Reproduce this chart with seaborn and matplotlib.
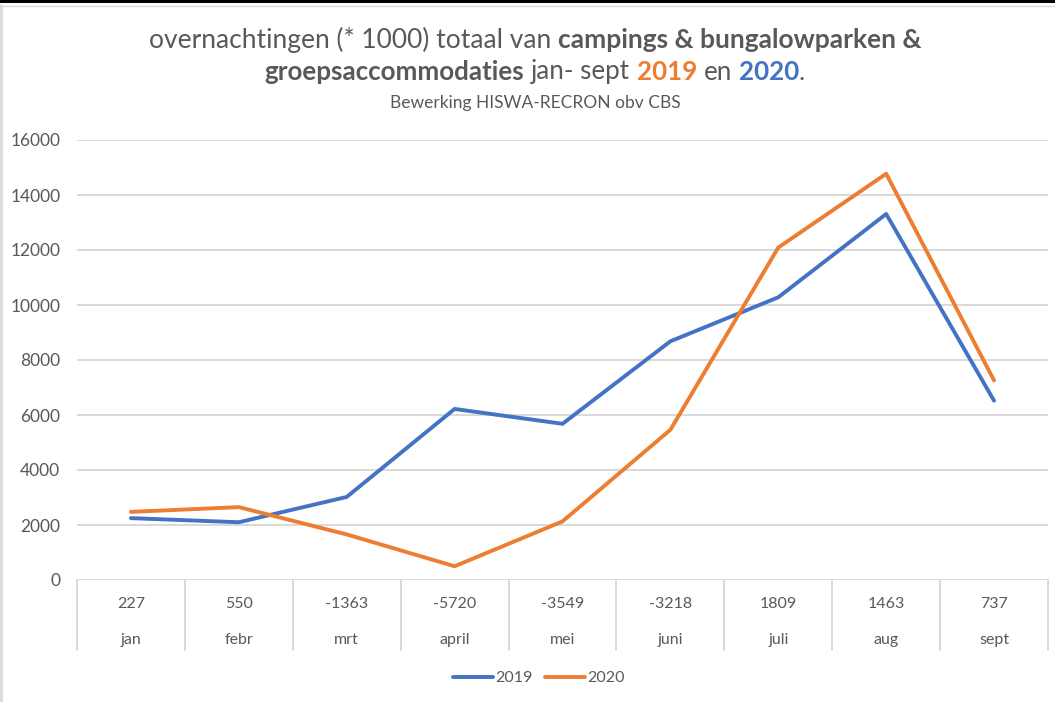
import numpy as np
import pandas as pd
import seaborn as sns
import matplotlib.pyplot as plt
from matplotlib.lines import Line2D
from matplotlib.patches import Rectangle

# data
maanden = ["jan", "febr", "mrt", "april", "mei", "juni", "juli", "aug", "sept"]
verschil = ["227", "550", "-1363", "-5720", "-3549", "-3218", "1809", "1463", "737"]
jaar_2019 = [2250, 2100, 3020, 6220, 5680, 8680, 10280, 13310, 6520]
jaar_2020 = [2477, 2650, 1657, 500, 2131, 5462, 12089, 14773, 7257]

blauw = "#4472C4"
oranje = "#ED7D31"
grijs = "#595959"
raster = "#D9D9D9"

df = pd.DataFrame({
    "maand": maanden * 2,
    "waarde": jaar_2019 + jaar_2020,
    "jaar": ["2019"] * 9 + ["2020"] * 9,
})

sns.set_theme(style="white")
plt.rcParams["font.family"] = ["Lato", "DejaVu Sans"]

fig = plt.figure(figsize=(10.55, 7.02), dpi=100)
ax = fig.add_axes([77 / 1055, 1 - 580 / 702, (1048 - 77) / 1055, 440 / 702])

sns.lineplot(data=df, x="maand", y="waarde", hue="jaar", sort=False,
             palette={"2019": blauw, "2020": oranje}, linewidth=2.8,
             ax=ax, legend=False)
for ln in ax.lines:
    ln.set_solid_joinstyle("round")
    ln.set_solid_capstyle("round")

ax.set_xlim(-0.5, 8.5)
ax.set_ylim(0, 16000)
ax.set_yticks(np.arange(0, 16001, 2000))
ax.yaxis.grid(True, color=raster, linewidth=1.4)
ax.set_axisbelow(True)
for s in ax.spines.values():
    s.set_visible(False)
ax.tick_params(axis="y", length=0, pad=12, labelsize=12.5, labelcolor=grijs)
ax.set_xticks([])
ax.set_xlabel("")
ax.set_ylabel("")

# twee rijen categorie labels met scheidingslijnen
trans = ax.get_xaxis_transform()
for i, (v, m) in enumerate(zip(verschil, maanden)):
    ax.text(i, -0.054, v, transform=trans, ha="center", va="center",
            fontsize=11.5, color=grijs)
    ax.text(i, -0.137, m, transform=trans, ha="center", va="center",
            fontsize=11.5, color=grijs)
for b in np.arange(-0.5, 9, 1):
    ax.plot([b, b], [0, -0.159], transform=trans, color=raster,
            linewidth=1.4, clip_on=False)

handles = [Line2D([], [], color=blauw, lw=2.8), Line2D([], [], color=oranje, lw=2.8)]
fig.legend(handles, ["2019", "2020"], loc="center", bbox_to_anchor=(539 / 1055, 1 - 678 / 702),
           ncol=2, frameon=False, fontsize=11.5, labelcolor=grijs,
           handlelength=2.5, handletextpad=0.15, columnspacing=0.8)

# titel met gemengde opmaak
renderer = fig.canvas.get_renderer()


def mixed_line(pieces, y, size):
    texts = []
    for txt, weight, color, space in pieces:
        t = fig.text(0, y, txt, fontsize=size, fontweight=weight, color=color,
                     ha="left", va="center")
        texts.append((t, space))
    probe = fig.text(0, 0, "a a", fontsize=size)
    probe2 = fig.text(0, 0, "aa", fontsize=size)
    sp = (probe.get_window_extent(renderer).width - probe2.get_window_extent(renderer).width)
    probe.remove()
    probe2.remove()
    widths = [t.get_window_extent(renderer).width for t, _ in texts]
    total = sum(widths) + sp * sum(1 for _, s in texts[1:] if s)
    x = 535 - total / 2
    for (t, s), w in zip(texts, widths):
        if s and t is not texts[0][0]:
            x += sp
        t.set_x(x / 1055)
        x += w


mixed_line([("overnachtingen (* 1000) totaal van", "normal", grijs, False),
            ("campings & bungalowparken &", "bold", grijs, True)], 1 - 40 / 702, 19)
mixed_line([("groepsaccommodaties", "bold", grijs, False),
            ("jan- sept", "normal", grijs, True),
            ("2019", "bold", oranje, True),
            ("en", "normal", grijs, True),
            ("2020", "bold", blauw, True),
            (".", "normal", grijs, False)], 1 - 72 / 702, 18.7)
fig.text(535 / 1055, 1 - 103 / 702, "Bewerking HISWA-RECRON obv CBS", ha="center",
         va="center", fontsize=12.5, color=grijs)

# rand van de grafiek
fig.add_artist(Rectangle((0, 1 - 3 / 702), 1, 3 / 702, transform=fig.transFigure,
                         color="black", lw=0))
fig.add_artist(Line2D([0, 1], [1 - 5.5 / 702] * 2, transform=fig.transFigure, color=raster, lw=1))
fig.add_artist(Line2D([1 / 1055] * 2, [0, 1 - 5 / 702], transform=fig.transFigure, color=raster, lw=2))

fig.savefig("out.png", dpi=100)
